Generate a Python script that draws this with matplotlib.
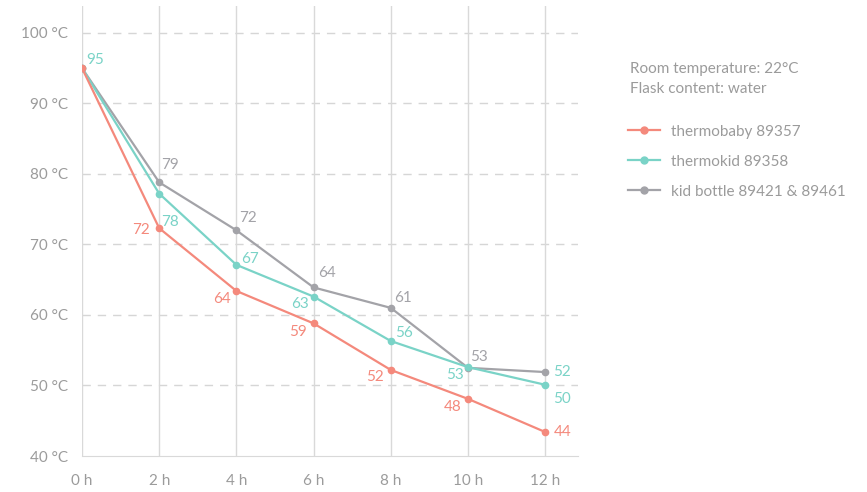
import matplotlib
matplotlib.use("Agg")
import matplotlib.pyplot as plt
from matplotlib.lines import Line2D

plt.rcParams["font.family"] = ["Lato", "DejaVu Sans"]

hours = [0, 2, 4, 6, 8, 10, 12]
x_labels = ["0 h", "2 h", "4 h", "6 h", "8 h", "10 h", "12 h"]
y_ticks = [40, 50, 60, 70, 80, 90, 100]

thermobaby = [95, 72.3, 63.4, 58.8, 52.2, 48.1, 43.4]
thermokid = [95, 77.2, 67.1, 62.6, 56.3, 52.6, 50.1]
kid_bottle = [95, 78.8, 72.0, 63.9, 61.0, 52.5, 51.9]

thermobaby_lbl = [None, "72", "64", "59", "52", "48", "44"]
thermokid_lbl = ["95", "78", "67", "63", "56", "53", "50"]
kid_bottle_lbl = [None, "79", "72", "64", "61", "53", "52"]

names = ["thermobaby 89357", "thermokid 89358", "kid bottle 89421 & 89461"]
colors = ["#f4897c", "#7ad3c7", "#a3a3a8"]
text_grey = "#9b9b9b"

# label offsets in pixels (dx, dy), screen direction
off_red = [None, (-18, -2), (-14, -8), (-16, -9), (-16, -7), (-15, -8), (17, 0)]
off_teal = [(13, 8), (11, -28), (14, 6), (-14, -7), (13, 8), (-13, -8), (17, -14)]
off_grey = [None, (11, 17), (12, 12), (13, 14), (12, 10), (11, 11), (17, 0)]

fig = plt.figure(figsize=(8.67, 4.92), dpi=100)
ax = fig.add_axes([82 / 867, 1 - 456 / 492, (578 - 82) / 867, 450 / 492])

series = [
    (thermobaby, thermobaby_lbl, off_red, colors[0]),
    (thermokid, thermokid_lbl, off_teal, colors[1]),
    (kid_bottle, kid_bottle_lbl, off_grey, colors[2]),
]

# draw grey first so red is on top
for vals, lbls, offs, c in reversed(series):
    ax.plot(hours, vals, color=c, lw=1.6, marker="o", ms=4.5, zorder=3)

for i, (vals, lbls, offs, c) in enumerate(series):
    for j, (h, v) in enumerate(zip(hours, vals)):
        if lbls[j] is None:
            continue
        dx, dy = offs[j]
        col = c
        if i == 2 and j == 6:
            col = colors[1]  # shown in teal in the original
        ax.annotate(lbls[j], (h, v), xytext=(dx * 0.72, dy * 0.72),
                    textcoords="offset points", ha="center", va="center",
                    fontsize=11, color=col, zorder=4)

ax.set_xlim(0, 12.85)
ax.set_ylim(40, 103.8)
ax.set_xticks(hours)
ax.set_xticklabels(x_labels)
ax.set_yticks(y_ticks)
ax.set_yticklabels([f"{t} °C" for t in y_ticks])
ax.tick_params(length=0, labelsize=11, colors=text_grey)
ax.tick_params(axis="x", pad=13)
ax.tick_params(axis="y", pad=10)

for t in y_ticks[1:]:
    ax.axhline(t, color="#d6d6d6", lw=1, ls=(0, (6, 5)), zorder=1)
for h in hours:
    ax.axvline(h, color="#d9d9d9", lw=1, zorder=1)

for s in ["top", "right", "left"]:
    ax.spines[s].set_visible(False)
ax.spines["bottom"].set_color("#d9d9d9")

fig.text(630 / 867, 1 - 69 / 492, "Room temperature: 22°C", fontsize=11,
         color=text_grey, va="center")
fig.text(630 / 867, 1 - 89 / 492, "Flask content: water", fontsize=11,
         color=text_grey, va="center")

handles = [Line2D([], [], color=c, lw=1.6, marker="o", ms=5) for c in colors]
fig.legend(handles, names, loc="upper left", bbox_to_anchor=(614 / 867, 1 - 111 / 492),
           frameon=False, fontsize=11, labelcolor=text_grey, handlelength=2.1,
           labelspacing=1.05, handletextpad=0.75)

fig.savefig("out.png", dpi=100)
